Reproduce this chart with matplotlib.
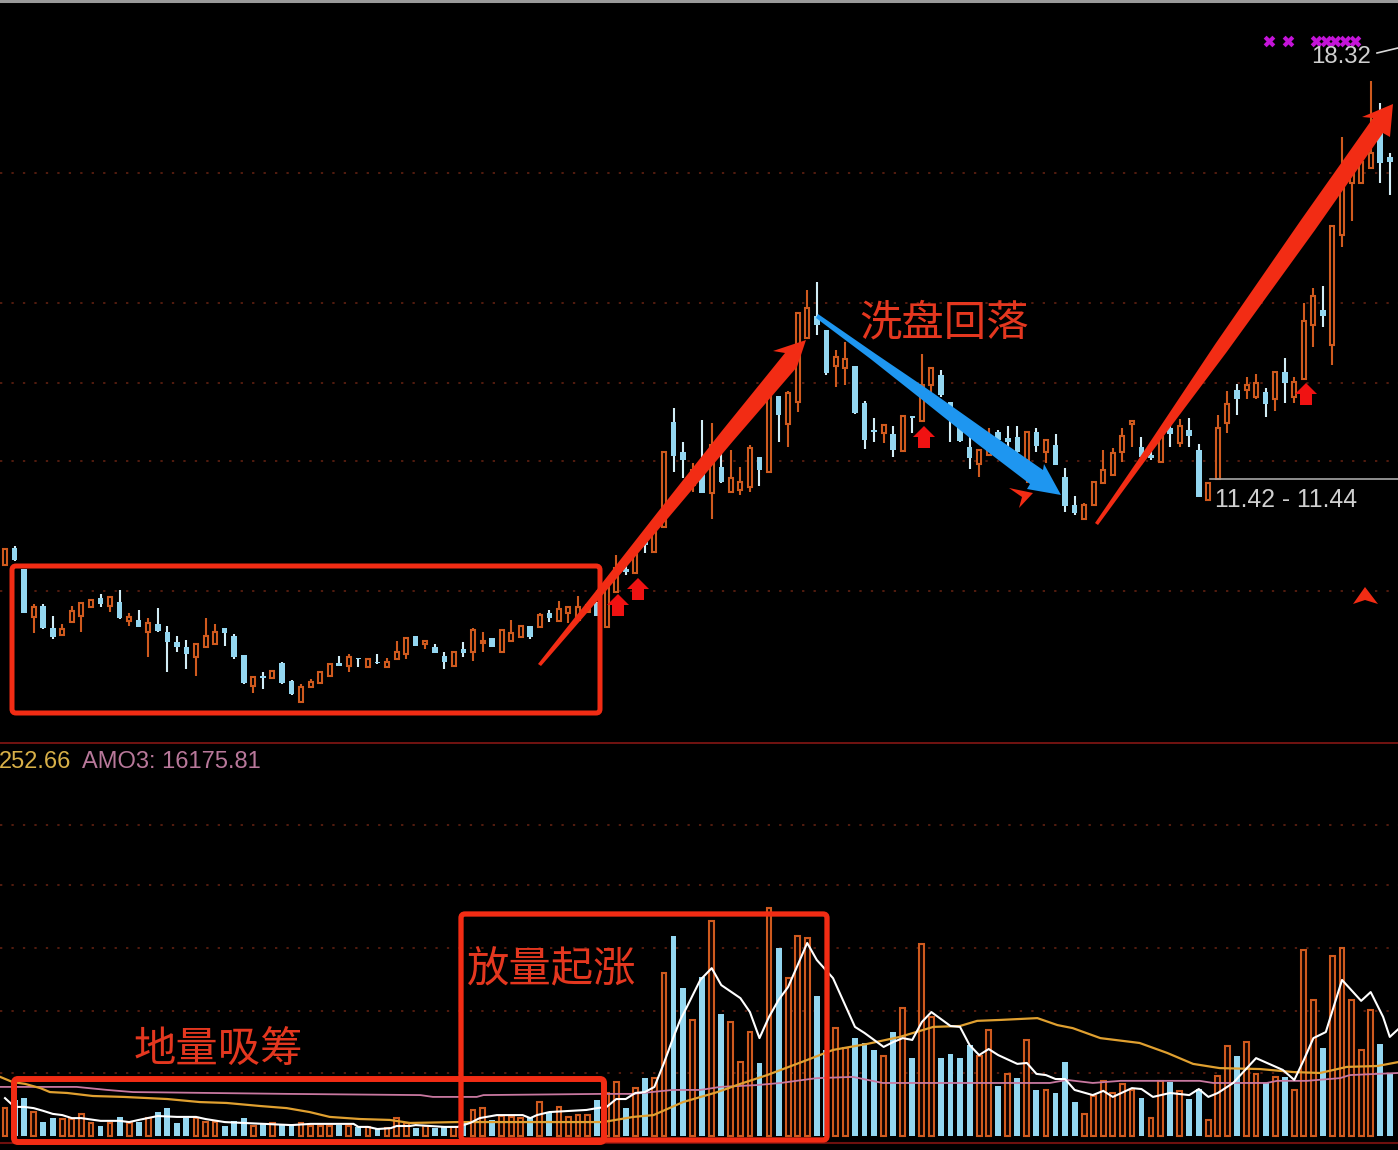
# -*- coding: UTF-8 -*-
import matplotlib
matplotlib.use("Agg")
import matplotlib.pyplot as plt
from matplotlib.patches import FancyBboxPatch, Polygon

plt.rcParams['font.family'] = ['Noto Sans CJK SC', 'DejaVu Sans']

W, H = 1398, 1150

# K线：最高 / 实体上沿 / 实体下沿 / 最低，U阳 D阴
highs = [10.82,10.86,10.5,9.94,9.94,9.74,9.62,9.9,9.95,10.02,
         10.1,10.06,10.16,9.79,9.84,9.71,9.87,9.58,9.42,9.36,
         9.31,9.71,9.62,9.55,9.46,9.12,8.78,8.85,8.86,9.01,
         8.72,8.66,8.74,8.85,8.98,9.1,9.14,9.07,9.06,9.14,
         9.07,9.34,9.39,9.42,9.34,9.3,9.17,9.17,9.33,9.55,
         9.49,9.39,9.52,9.68,9.58,9.58,9.79,9.84,9.98,9.89,
         10.06,9.97,9.97,10.21,10.72,10.61,10.85,11.01,11.15,12.37,
         13.07,12.53,12.19,12.88,12.83,12.4,12.4,12.13,12.48,12.29,
         13.25,13.26,13.34,14.59,14.96,15.09,14.32,14.0,14.13,13.74,
         13.18,12.91,12.8,12.78,12.94,12.94,13.94,13.71,13.68,13.17,
         12.93,12.64,12.4,12.75,12.72,12.78,12.78,12.69,12.75,12.56,
         12.66,12.11,11.66,11.55,11.89,12.4,12.43,12.75,12.88,12.61,
         12.4,12.61,12.83,12.9,12.91,12.5,11.87,12.96,13.34,13.46,
         13.57,13.62,13.39,13.65,13.87,13.57,14.75,14.99,15.02,15.98,
         17.41,17.04,17.01,18.3,17.95,17.15]
body_top = [10.82,10.83,10.5,9.89,9.9,9.55,9.54,9.82,9.95,10.0,
            10.03,10.05,9.97,9.73,9.68,9.63,9.62,9.49,9.33,9.25,
            9.3,9.42,9.49,9.55,9.42,9.12,8.77,8.78,8.86,8.99,
            8.7,8.61,8.69,8.85,8.98,8.99,9.09,9.07,9.06,9.01,
            9.01,9.17,9.39,9.42,9.34,9.25,9.1,9.17,9.22,9.52,
            9.34,9.39,9.52,9.47,9.58,9.58,9.76,9.79,9.86,9.89,
            9.89,9.92,9.95,10.21,10.51,10.5,10.8,10.96,11.15,12.37,
            12.85,12.37,12.08,12.05,12.48,12.13,11.95,11.89,12.43,12.29,
            13.25,13.26,13.31,14.59,14.67,14.54,14.32,13.89,13.86,13.74,
            13.15,12.72,12.8,12.66,12.94,12.94,13.44,13.71,13.6,13.17,
            12.78,12.45,12.4,12.61,12.69,12.59,12.61,12.69,12.69,12.56,
            12.48,11.97,11.52,11.52,11.89,12.08,12.35,12.62,12.86,12.45,
            12.32,12.61,12.75,12.78,12.72,12.4,11.87,12.75,13.14,13.36,
            13.44,13.47,13.33,13.65,13.65,13.49,14.46,14.86,14.64,15.98,
            16.64,16.88,17.01,17.15,17.47,17.09]
body_bot = [10.56,10.64,9.79,9.73,9.55,9.41,9.44,9.65,9.74,9.89,
            9.94,9.9,9.71,9.66,9.57,9.49,9.5,9.33,9.25,9.14,
            9.09,9.25,9.3,9.47,9.09,8.67,8.62,8.75,8.75,8.67,
            8.5,8.37,8.61,8.67,8.78,8.94,8.94,9.06,8.93,8.99,
            8.93,9.06,9.14,9.26,9.3,9.15,9.01,8.94,9.15,9.17,
            9.31,9.25,9.17,9.34,9.41,9.41,9.57,9.71,9.66,9.79,
            9.68,9.81,9.74,9.57,10.13,10.45,10.43,10.88,10.77,11.17,
            12.3,12.24,11.84,11.71,11.71,11.89,11.73,11.76,11.81,12.08,
            12.05,12.96,12.82,13.17,14.19,14.4,13.63,13.74,13.71,12.99,
            12.56,12.69,12.67,12.4,12.38,12.91,12.86,13.44,13.28,13.01,
            12.54,12.27,12.18,12.32,12.56,12.53,12.37,12.24,12.46,12.37,
            12.16,11.5,11.39,11.3,11.52,11.87,12.0,12.37,12.82,12.29,
            12.27,12.21,12.66,12.51,12.62,11.65,11.6,11.94,12.83,13.22,
            13.36,13.25,13.14,13.22,13.47,13.25,13.54,14.4,14.54,14.08,
            15.84,16.67,16.67,16.91,16.99,17.01]
lows = [10.56,10.62,9.79,9.47,9.54,9.38,9.44,9.63,9.49,9.87,
        9.89,9.81,9.7,9.58,9.57,9.09,9.49,8.85,9.17,8.9,
        8.78,9.25,9.28,9.26,9.06,8.66,8.51,8.58,8.74,8.66,
        8.48,8.37,8.61,8.67,8.78,8.94,8.85,8.93,8.93,8.98,
        8.93,9.06,9.06,9.26,9.22,9.15,8.9,8.94,9.09,9.02,
        9.17,9.25,9.17,9.34,9.41,9.38,9.57,9.65,9.66,9.63,
        9.68,9.81,9.74,9.57,10.13,10.4,10.43,10.75,10.77,11.17,
        12.05,11.95,11.73,11.71,11.3,11.87,11.71,11.68,11.73,11.82,
        12.05,12.53,12.45,13.01,14.19,14.24,13.6,13.41,13.44,12.98,
        12.42,12.53,12.51,12.29,12.38,12.67,12.86,13.33,13.25,12.53,
        12.53,12.1,11.97,12.3,12.51,12.45,12.35,11.87,12.37,12.19,
        12.16,11.41,11.36,11.3,11.52,11.87,12.0,12.21,12.45,12.16,
        12.24,12.21,12.45,12.45,12.45,11.65,11.6,11.94,12.67,12.96,
        13.22,13.22,12.93,13.02,13.15,13.15,13.54,14.05,14.37,13.76,
        15.65,16.06,16.67,16.91,16.67,16.48]
candle_dirs = ("UDDUDDUUUU" "DUDUDUDDDD" "UUUDDDUDUD" "DUUUUDUDUD" "UUUDUDDUDU"
               "UDUUUDUDUU" "UUDUUDUDUU" "DDUDUDUUUD" "UDUUUDDUUD" "DDUDUDUUDD"
               "DDUUDDDUDU" "DDDUUUUUUD" "DUDUDDUUUD" "UUDUDUUUDU" "UUUUDD")

# 成交额（千）
volumes = [9.2,11.9,12.5,7.9,4.6,5.9,5.6,5.6,7.3,4.3,
           3.3,4.3,6.3,4.3,4.6,5.9,7.9,9.2,4.3,5.9,
           5.9,4.6,4.6,3.3,5.0,5.9,3.3,4.3,4.3,3.6,
           4.0,4.3,3.3,3.3,3.3,3.6,3.3,3.0,3.0,2.6,
           2.6,5.9,4.3,2.6,3.3,2.6,3.3,3.0,4.3,8.6,
           9.2,5.3,6.6,6.3,5.9,6.3,11.2,7.9,9.6,6.3,
           6.9,6.9,11.9,14.2,17.8,9.2,15.8,19.1,19.1,53.8,
           66.0,48.8,38.3,52.5,71.0,40.3,37.6,24.4,34.3,24.1,
           75.2,62.0,52.1,66.0,65.3,46.2,28.4,35.6,29.0,32.3,
           30.7,28.4,26.4,34.3,42.2,25.7,63.4,39.3,25.7,27.1,
           25.7,30.0,26.4,35.0,16.5,20.5,19.1,31.7,15.2,15.2,
           14.2,24.4,11.2,7.3,13.2,18.2,14.2,17.2,15.2,12.5,
           5.9,18.2,17.8,14.9,12.2,15.5,5.3,19.8,29.7,26.4,
           31.0,20.5,17.5,19.5,19.5,15.2,61.4,44.9,29.0,59.4,
           62.0,44.9,28.4,41.6,30.4,20.8]
vol_dirs = ("UDDUDDUUUU" "DUDUDUDDDD" "UUUDDDUDUD" "DUUUUDUDUD" "UUUDUDDUDU"
            "UDUUUDUDUU" "UUDUUDUDUU" "DDUDUDUUUD" "UDUUUDDUUD" "DDUDUDUUDD"
            "DDUUDUDUDU" "DDDUUUUUUD" "UUDUDDUUUD" "UUDUDUUUDU" "UUUUDD")

# 均线，取折点读数
amo1_x = [0,1,2,3,4,5,6,7,8,10,12,13,14,16,18,20,21,23,25,30,32,36.5,37,38,39,40.4,41,42.4,43,46,
          47.4,48.7,49.7,51.5,54.2,55,55.7,57,60.9,62,63,64,65,66,67,68,69,70,70.7,71.4,
          72.8,74,75,77,78,79,80,81,82,83,84,85,86.7,89,90,92,93,94,95,96,
          97,99,100,101,102,103,104,106,107,108,109,110,111,112,113.9,115,116,118,119,120.2,
          122,124,125,126,127,128.6,131,133.8,135,136,137,138.3,140,142,143,144.3,145,145.9]
amo1_v = [12.5,9.6,9.6,9.2,8.3,7.3,6.9,5.9,5.9,5.0,5.0,4.6,5.3,6.6,6.3,6.3,5.6,4.6,4.3,3.6,4.0,4.0,3.0,3.0,2.3,2.6,3.3,3.3,3.6,3.0,
          3.0,4.3,5.9,6.9,6.9,5.9,6.9,7.9,8.6,9.2,9.6,12.2,12.2,14.2,14.5,16.2,24.1,32.7,38.3,42.6,
          51.5,55.4,49.8,45.5,40.9,32.3,39.3,44.9,49.2,56.4,63.7,58.1,52.1,36.0,34.0,29.4,31.0,32.3,31.7,37.6,
          40.9,36.3,36.0,30.0,26.7,28.7,26.7,23.8,24.1,20.5,20.1,18.8,18.8,15.2,13.5,14.9,12.9,15.8,15.5,12.9,
          14.2,13.5,15.5,12.9,14.2,17.5,25.7,21.8,18.5,25.1,32.3,34.3,51.5,44.6,47.5,39.3,32.7,35.3]
amo2_x = [-0.5,0.8,2.1,3.7,4.7,6.5,9.2,12.4,17,20.4,23.2,26.7,29.5,31.9,34,37.2,40.3,42.4,47.3,53.6,
          62.6,65.8,67.9,71,74.6,77,79.8,84,86.7,90.3,93.7,97.2,100,101.8,104.2,108.1,110.2,111.8,114.7,118.8,
          121.7,124.4,127.2,131.4,134.9,137.7,140.5,143.7,145.9]
amo2_v = [19.5,17.8,17.2,15.8,14.5,14.2,13.2,12.9,12.2,11.2,10.9,9.9,9.2,7.9,6.3,5.6,5.3,4.3,4.6,4.6,
          4.6,6.3,6.9,11.2,14.5,17.2,20.1,25.1,28.4,30.4,32.7,36.0,36.3,38.0,38.3,38.9,36.6,35.6,32.3,30.7,
          27.4,23.8,22.4,22.1,21.1,20.8,22.8,23.1,24.4]
amo3_x = [-0.5,7.5,10.7,13.4,29.5,43.5,44.8,49.4,50.1,62.6,65.8,69.9,72.8,74.9,78.7,81.2,85,88.8,91.9,109.4,
          111.2,113.9,116.8,125.1,126.5,132.1,133.2,136.3,139.8,140.8,145.9]
amo3_v = [16.2,16.2,15.2,14.5,13.9,13.5,12.9,12.9,13.5,13.9,13.9,15.2,15.2,16.2,16.8,17.5,19.1,19.5,17.5,17.5,
          18.5,17.5,18.2,18.2,17.5,17.5,18.2,18.2,19.1,20.1,20.8]

price_grid = [16.83, 14.75, 13.47, 12.22, 10.14]
vol_grid = [102.6, 82.8, 62.0, 41.3, 20.8]
signal_x = [132.4, 134.3, 137.3, 138.3, 139.3, 140.3, 141.4]
signal_y = [18.94] * 7

ORANGE = '#CF5A1E'
BLUE = '#93D6F0'
BLUE_WICK = '#D2EDF6'
RED = '#F22C14'
TEXT_RED = '#E4371F'
GRID = '#6A2413'

bars = list(range(len(highs)))
xlim = (-0.524, 145.86)

fig = plt.figure(figsize=(W / 100, H / 100), dpi=100, facecolor='black')

# 主图
ax = fig.add_axes([0, 407 / H, 1, 743 / H], facecolor='black')
for p in price_grid:
    ax.axhline(p, color=GRID, lw=1.1, ls=(0, (1.5, 6)), zorder=1)
for i in bars:
    up = candle_dirs[i] == 'U'
    ax.vlines(i, lows[i], highs[i], color=ORANGE if up else BLUE_WICK, lw=1.5, zorder=2)
    if up:
        ax.bar(i, body_top[i] - body_bot[i], 0.42, body_bot[i], facecolor='black',
               edgecolor=ORANGE, lw=1.5, zorder=3)
    else:
        ax.bar(i, body_top[i] - body_bot[i], 0.58, body_bot[i], color=BLUE, lw=0, zorder=3)
ax.scatter(signal_x, signal_y, marker='X', s=70, color='#C414D8', lw=0, zorder=3)
ax.set_xlim(xlim)
ax.set_ylim(7.712, 19.6)
ax.axis('off')

# 副图
ax2 = fig.add_axes([0, 0, 1, 407 / H], facecolor='black')
for v in vol_grid:
    ax2.axhline(v, color=GRID, lw=1.1, ls=(0, (1.5, 6)), zorder=1)
for i in bars:
    if vol_dirs[i] == 'U':
        ax2.bar(i, volumes[i], 0.5, facecolor='#120300', edgecolor=ORANGE, lw=1.5, zorder=2)
    else:
        ax2.bar(i, volumes[i], 0.62, color=BLUE, lw=0, zorder=2)
ax2.plot(amo3_x, amo3_v, color='#C878A0', lw=1.3, zorder=3)
ax2.plot(amo2_x, amo2_v, color='#E0A030', lw=1.6, zorder=4)
ax2.plot(amo1_x, amo1_v, color='white', lw=1.5, zorder=5)
ax2.set_xlim(xlim)
ax2.set_ylim(-4.62, 129.69)
ax2.axis('off')

# 标注层，按图片像素定位
top = fig.add_axes([0, 0, 1, 1], facecolor='none')
top.set_xlim(0, W)
top.set_ylim(H, 0)
top.axis('off')

top.plot([0, W], [743, 743], color='#7A1412', lw=1.3)
top.plot([0, W], [1142.5, 1142.5], color='#6E100E', lw=1.5)
top.plot([0, W], [1, 1], color='#9A9A9A', lw=2.2)
top.plot([1210, W], [479, 479], color='#A8A8A8', lw=1.2)
top.plot([1377, W], [53, 48], color='#D8D8D8', lw=1.2)

for x0, y0, x1, y1, lw in [(12, 566, 600, 713, 3.6), (14, 1079, 604, 1142, 4.3), (461, 914, 827, 1140, 3.8)]:
    top.add_patch(FancyBboxPatch((x0, y0), x1 - x0, y1 - y0, boxstyle='round,pad=0,rounding_size=4',
                                 fc='none', ec=RED, lw=lw, zorder=6))

# 箭头
top.add_patch(Polygon([(538, 664), (541, 666), (605.6, 591.5), (669.6, 516.3), (733.3, 440.8), (797, 367),
                       (806, 340), (773, 351), (785, 353), (721.7, 431.2), (660.4, 508.7), (599.4, 586.5)],
                      fc=RED, ec='none', zorder=7))
top.add_patch(Polygon([(1095, 523), (1098, 525), (1141.5, 465.7), (1226.7, 352), (1315, 230), (1383, 133),
                       (1390, 137), (1393, 104), (1362, 117), (1373, 118), (1301, 220), (1215.3, 344), (1136.5, 462.3)],
                      fc=RED, ec='none', zorder=7))
top.add_patch(Polygon([(818, 314), (874.6, 353.2), (930.6, 391.2), (986.3, 430.6), (1043, 470), (1044, 464),
                       (1061, 495), (1027, 489), (1030, 484), (976.7, 443.4), (923.4, 400.8), (870.4, 358.8), (816, 318)],
                      fc='#1E96F0', ec='none', zorder=8))
top.add_patch(Polygon([(1009, 488), (1033, 493), (1019, 508), (1022, 497)], fc=RED, ec='none', zorder=7))
top.add_patch(Polygon([(1365, 587), (1353, 604), (1365, 600), (1378, 604)], fc=RED, ec='none', zorder=7))
for cx, ty in [(618, 594), (638, 578), (924, 426), (1306, 383)]:
    top.add_patch(Polygon([(cx, ty), (cx + 11, ty + 11), (cx + 6, ty + 11), (cx + 6, ty + 22),
                           (cx - 6, ty + 22), (cx - 6, ty + 11), (cx - 11, ty + 11)],
                          fc='#F01212', ec='none', zorder=6))

# 文字
num = ['Liberation Sans', 'DejaVu Sans']
top.text(1311, 63, '18.32', color='#D0D0D0', fontsize=17.3, family=num, va='baseline', zorder=9)
top.text(1215, 507, '11.42 - 11.44', color='#D0D0D0', fontsize=17.8, family=num, va='baseline', zorder=9)
top.text(-1, 768, '252.66', color='#D8B048', fontsize=17, family=num, va='baseline', zorder=9)
top.text(82, 768, 'AMO3: 16175.81', color='#B8789A', fontsize=17, family=num, va='baseline', zorder=9)
top.text(859, 323, '洗盘回落', color=TEXT_RED, fontsize=30.5, va='center', zorder=9)
top.text(467, 971, '放量起涨', color=TEXT_RED, fontsize=30.5, va='center', zorder=9)
top.text(134, 1051, '地量吸筹', color=TEXT_RED, fontsize=30.5, va='center', zorder=9)

fig.savefig('out.png', dpi=100, facecolor='black')
